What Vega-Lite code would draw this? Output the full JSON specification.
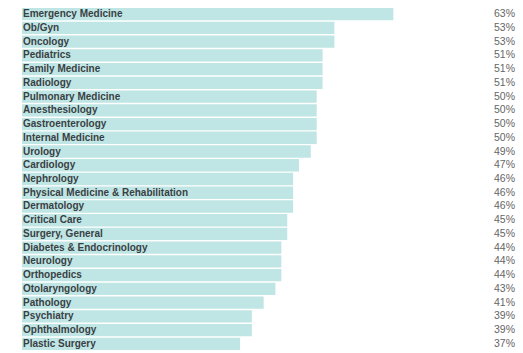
{
  "$schema": "https://vega.github.io/schema/vega-lite/v6.json",
  "autosize": "none",
  "padding": {"left": 22, "top": 8, "right": 0, "bottom": 0},
  "width": 501,
  "height": 342,
  "background": "white",
  "config": {"view": {"stroke": null}},
  "data": {"values": [
    {"specialty": "Emergency Medicine", "pct": 0.63},
    {"specialty": "Ob/Gyn", "pct": 0.53},
    {"specialty": "Oncology", "pct": 0.53},
    {"specialty": "Pediatrics", "pct": 0.51},
    {"specialty": "Family Medicine", "pct": 0.51},
    {"specialty": "Radiology", "pct": 0.51},
    {"specialty": "Pulmonary Medicine", "pct": 0.50},
    {"specialty": "Anesthesiology", "pct": 0.50},
    {"specialty": "Gastroenterology", "pct": 0.50},
    {"specialty": "Internal Medicine", "pct": 0.50},
    {"specialty": "Urology", "pct": 0.49},
    {"specialty": "Cardiology", "pct": 0.47},
    {"specialty": "Nephrology", "pct": 0.46},
    {"specialty": "Physical Medicine & Rehabilitation", "pct": 0.46},
    {"specialty": "Dermatology", "pct": 0.46},
    {"specialty": "Critical Care", "pct": 0.45},
    {"specialty": "Surgery, General", "pct": 0.45},
    {"specialty": "Diabetes & Endocrinology", "pct": 0.44},
    {"specialty": "Neurology", "pct": 0.44},
    {"specialty": "Orthopedics", "pct": 0.44},
    {"specialty": "Otolaryngology", "pct": 0.43},
    {"specialty": "Pathology", "pct": 0.41},
    {"specialty": "Psychiatry", "pct": 0.39},
    {"specialty": "Ophthalmology", "pct": 0.39},
    {"specialty": "Plastic Surgery", "pct": 0.37}
  ]},
  "encoding": {
    "y": {"field": "specialty", "type": "nominal", "sort": null, "axis": null,
          "scale": {"paddingInner": 0.1, "paddingOuter": 0}}
  },
  "layer": [
    {
      "mark": {"type": "bar", "color": "#bfe6e4"},
      "encoding": {
        "x": {"field": "pct", "type": "quantitative", "axis": null,
              "scale": {"domain": [0, 0.85], "nice": false}}
      }
    },
    {
      "mark": {"type": "text", "align": "left", "baseline": "middle", "dx": 1,
               "font": "Liberation Sans", "fontWeight": "bold", "fontSize": 10, "color": "#3a3f44"},
      "encoding": {
        "x": {"datum": 0},
        "text": {"field": "specialty"}
      }
    },
    {
      "mark": {"type": "text", "align": "right", "baseline": "middle", "dx": -8,
               "font": "Liberation Sans", "fontSize": 10.5, "color": "#666"},
      "encoding": {
        "x": {"datum": 0.85},
        "text": {"field": "pct", "type": "quantitative", "format": ".0%"}
      }
    }
  ]
}
